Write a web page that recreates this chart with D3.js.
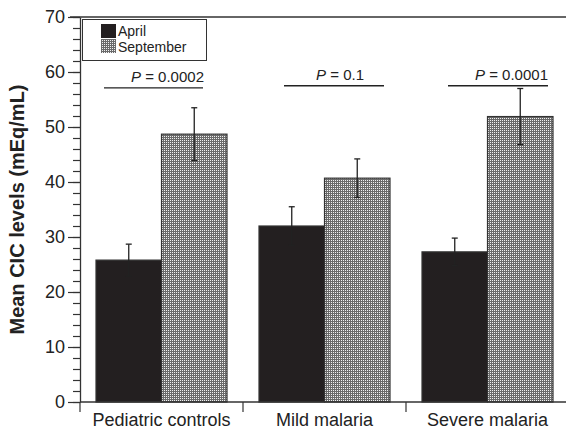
<!DOCTYPE html>
<html><head><meta charset="utf-8">
<script src="https://cdn.jsdelivr.net/npm/d3@7"></script>
<style>body{margin:0;background:#fff}svg{display:block;font-family:Arial,"Liberation Sans",sans-serif}</style>
</head><body><div id="chart"></div>
<script>
const categories = ["Pediatric controls", "Mild malaria", "Severe malaria"];
const seriesNames = ["April", "September"];
const aprilValues = [25.8, 32.0, 27.3];
const aprilErrors = [2.9, 3.5, 2.5];
const septValues = [48.7, 40.7, 51.9];
const septErrors = [4.8, 3.5, 5.1];
const pLabels = ["0.0002", "0.1", "0.0001"];
const pLineValues = [57.1, 57.5, 57.5];
const yTicks = [0, 10, 20, 30, 40, 50, 60, 70];

const W = 566, H = 435;
const svg = d3.select("#chart").append("svg").attr("width", W).attr("height", H);
const defs = svg.append("defs");
const pat = defs.append("pattern").attr("id", "dots").attr("patternUnits", "userSpaceOnUse").attr("width", 2).attr("height", 2);
pat.append("rect").attr("width", 2).attr("height", 2).attr("fill", "#6a6a6a");
pat.append("rect").attr("width", 1).attr("height", 1).attr("fill", "#f0f0f0");

const x0 = 80, x1 = 569, yTop = 17, yBot = 402;
const x = d3.scaleBand().domain(categories).range([x0, x1]).paddingInner(0).paddingOuter(0);
const xs = d3.scaleBand().domain(seriesNames).range([16, x.bandwidth() - 16]).padding(0);
const y = d3.scaleLinear().domain([0, 70]).range([yBot, yTop]);

const dark = "#231f20";
const FONT = "Arial, 'Liberation Sans', sans-serif";
const data = categories.map((c, i) => ({c, i, vals: [
  {s: "April", v: aprilValues[i], e: aprilErrors[i]},
  {s: "September", v: septValues[i], e: septErrors[i]}]}));

const g = svg.append("g");
const grp = g.selectAll("g.grp").data(data).enter().append("g").attr("transform", d => `translate(${x(d.c)},0)`);
grp.selectAll("rect").data(d => d.vals).enter().append("rect")
  .attr("x", d => xs(d.s)).attr("width", xs.bandwidth())
  .attr("y", d => y(d.v)).attr("height", d => y(0) - y(d.v))
  .attr("fill", d => d.s === "April" ? dark : "url(#dots)")
  .attr("stroke", "#333").attr("stroke-width", 1.2);
// error bars
const eb = grp.selectAll("g.eb").data(d => d.vals).enter().append("g")
  .attr("stroke", "#222").attr("stroke-width", 1.3);
const cx = d => xs(d.s) + xs.bandwidth() / 2;
eb.append("line").attr("x1", cx).attr("x2", cx)
  .attr("y1", d => y(d.v + d.e)).attr("y2", d => y(d.v - d.e));
eb.append("line").attr("x1", d => cx(d) - 3).attr("x2", d => cx(d) + 3)
  .attr("y1", d => y(d.v + d.e)).attr("y2", d => y(d.v + d.e));
eb.append("line").attr("x1", d => cx(d) - 3).attr("x2", d => cx(d) + 3)
  .attr("y1", d => y(d.v - d.e)).attr("y2", d => y(d.v - d.e));

// P annotations
const pOff = [[24, 123], [41, 141], [42, 142]];
const pTextX = [124, 97, 142];
const ann = svg.selectAll("g.ann").data(categories).enter().append("g");
ann.append("line").attr("x1", (c, i) => x(c) + pOff[i][0]).attr("x2", (c, i) => x(c) + pOff[i][1])
  .attr("y1", (c, i) => y(pLineValues[i])).attr("y2", (c, i) => y(pLineValues[i]))
  .attr("stroke", "#222").attr("stroke-width", 1.3);
const pt = ann.append("text").attr("x", (c, i) => x(c) + pTextX[i]).attr("y", (c, i) => y(pLineValues[i]) - 6)
  .attr("text-anchor", (c, i) => i === 1 ? "middle" : "end").attr("font-size", 15).attr("fill", "#222");
pt.append("tspan").attr("font-style", "italic").text("P");
pt.append("tspan").text((c, i) => " = " + pLabels[i]);

// axes
const ya = svg.append("g").attr("transform", `translate(${x0},0)`)
  .call(d3.axisLeft(y).tickValues(d3.range(0, 71, 2)).tickSize(7).tickFormat(""));
ya.select(".domain").remove();
const yb = svg.append("g").attr("transform", `translate(${x0},0)`)
  .call(d3.axisLeft(y).tickValues(yTicks).tickSize(12).tickPadding(3).tickSizeOuter(0));
yb.selectAll("text").attr("font-size", 18).attr("fill", "#222").attr("font-family", FONT);
svg.selectAll(".tick line").attr("stroke", "#333").attr("stroke-width", 1.2);
yb.select(".domain").attr("stroke", "#333").attr("stroke-width", 1.3);

const xa = svg.append("g").attr("transform", `translate(0,${yBot})`)
  .call(d3.axisBottom(x).tickSize(0).tickPadding(11));
xa.select(".domain").remove();
xa.selectAll("text").attr("font-size", 18).attr("fill", "#222").attr("font-family", FONT);
svg.append("line").attr("x1", x0).attr("x2", W).attr("y1", yBot).attr("y2", yBot).attr("stroke", "#333").attr("stroke-width", 1.3);
svg.append("line").attr("x1", x0 - 10).attr("x2", W).attr("y1", yTop).attr("y2", yTop).attr("stroke", "#333").attr("stroke-width", 1.3);
svg.selectAll("line.bt").data(categories).enter().append("line").attr("class", "bt")
  .attr("x1", c => x(c)).attr("x2", c => x(c)).attr("y1", yBot).attr("y2", yBot + 10)
  .attr("stroke", "#333").attr("stroke-width", 1.2);

svg.append("text").attr("transform", `translate(24,${(yTop + yBot) / 2}) rotate(-90)`)
  .attr("text-anchor", "middle").attr("font-size", 20).attr("font-weight", "bold").attr("fill", "#222")
  .text("Mean CIC levels (mEq/mL)");

// legend
const lg = svg.append("g");
lg.append("rect").attr("x", 82.5).attr("y", 19.5).attr("width", 124).attr("height", 41).attr("fill", "#fff").attr("stroke", "#333").attr("stroke-width", 1);
seriesNames.forEach((s, i) => {
  lg.append("rect").attr("x", 101).attr("y", 24 + i * 15).attr("width", 15).attr("height", 14)
    .attr("fill", i === 0 ? dark : "url(#dots)");
  lg.append("text").attr("x", 118).attr("y", 36 + i * 16).attr("font-size", 14).attr("fill", "#222").text(s);
});
</script></body></html>
